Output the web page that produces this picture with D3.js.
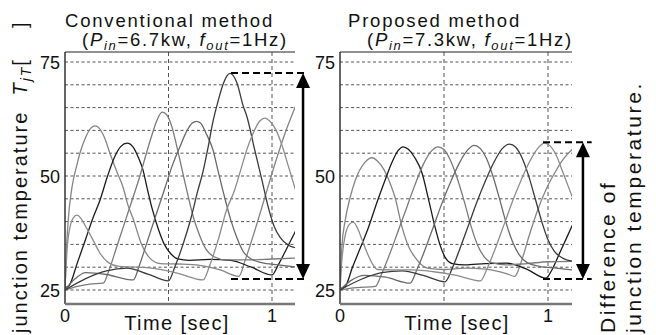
<!DOCTYPE html>
<html><head><meta charset="utf-8">
<script src="https://cdn.jsdelivr.net/npm/d3@7"></script>
<style>
body{margin:0;background:#fff}
svg{display:block}
text{font-family:"Liberation Sans",Arial,sans-serif;fill:#111}
</style></head>
<body><svg id="c" width="656" height="335"></svg>
<script>
// ---------- data (time [sec], junction temperature) ----------
const gridTemps = [25,30,35,40,45,50,55,60,65,70,75];
const gridTimes = [0.5, 1];
const yTickLabels = [25, 50, 75];
const xTickLabels = [0, 1];

// Conventional method (Pin=6.7kw)
const convA = [[0,25],[0.006,33],[0.015,40],[0.034,47.6],[0.055,52],[0.072,55],[0.1,58.5],[0.125,60.5],[0.145,61],[0.165,60.5],[0.19,58.5],[0.217,55],[0.25,51],[0.28,47.6],[0.305,43.5],[0.33,40.5],[0.37,35],[0.41,32],[0.46,30.8],[0.55,30.7],[0.65,30.4],[0.75,29.4],[0.84,28],[0.87,31.5],[0.92,38.5],[0.97,46],[1.02,53.5],[1.06,59],[1.12,66]];
const convB = [[0,25.5],[0.02,26],[0.06,31],[0.1,36.2],[0.135,40.8],[0.169,44.7],[0.203,49.6],[0.24,54.2],[0.27,56.5],[0.30,57.2],[0.33,56.3],[0.355,54],[0.377,51.3],[0.396,47.5],[0.42,43],[0.45,38.5],[0.48,35],[0.51,33],[0.545,31.8],[0.6,31.5],[0.7,31.7],[0.8,31.5],[0.9,30],[1.0,28.3],[1.03,30.5],[1.07,34],[1.12,38.5]];
const convC = [[0,25],[0.06,25.8],[0.12,26.3],[0.185,26.5],[0.21,29],[0.25,34.5],[0.29,40],[0.33,45.5],[0.362,50],[0.39,54.5],[0.42,59],[0.445,62.3],[0.469,64],[0.49,63.5],[0.515,61],[0.54,56.5],[0.565,51.5],[0.59,46.5],[0.62,41],[0.65,37],[0.68,34],[0.72,32.3],[0.78,31.6],[0.9,31.6],[1.0,31.8],[1.12,32]];
const convD = [[0,25],[0.05,27.5],[0.1,28.8],[0.2,28.4],[0.33,27.2],[0.36,30.5],[0.4,36],[0.44,41.5],[0.48,47],[0.52,52.5],[0.556,56.5],[0.59,60],[0.615,61.6],[0.635,62],[0.655,61.6],[0.68,59.5],[0.715,55.7],[0.74,51],[0.77,45.5],[0.8,40.5],[0.83,36.5],[0.86,33.5],[0.9,31.8],[0.95,31],[1.03,30.5],[1.12,30]];
const convE = [[0,25],[0.1,27.5],[0.2,29.2],[0.3,29.8],[0.4,28.5],[0.5,27],[0.53,30],[0.57,35],[0.61,41],[0.64,46.5],[0.667,51],[0.69,56],[0.715,62],[0.74,66.5],[0.765,70.3],[0.797,72.5],[0.83,70.5],[0.86,65.5],[0.879,63],[0.915,56],[0.952,49],[0.98,43.5],[1.01,39],[1.04,36.5],[1.08,34.8],[1.12,34.2]];
const convF = [[0,25],[0.005,30],[0.012,35],[0.025,39],[0.04,40.8],[0.058,41.4],[0.08,40.5],[0.105,38.5],[0.135,36],[0.17,33],[0.21,31],[0.26,30.2],[0.35,30],[0.45,29.6],[0.55,28.6],[0.667,27.2],[0.7,30.5],[0.74,36],[0.78,42.5],[0.82,47],[0.85,51.5],[0.88,56],[0.91,59.5],[0.94,62],[0.966,62.7],[0.99,62],[1.02,60],[1.05,56.5],[1.08,52],[1.12,46]];

// Proposed method (Pin=7.3kw)
const propA = [[0,25],[0.004,30],[0.01,35],[0.024,40],[0.05,45.5],[0.073,49],[0.12,53],[0.154,54],[0.18,53.3],[0.21,51.5],[0.24,48.5],[0.264,45.4],[0.3,38.5],[0.33,34.5],[0.36,32.2],[0.42,29.8],[0.5,29.5],[0.6,29.8],[0.7,29.6],[0.8,28.6],[0.84,28],[0.87,31],[0.91,37],[0.95,42.5],[0.99,47],[1.03,50.5],[1.07,53.5],[1.12,56]];
const propB = [[0,25.3],[0.024,25.7],[0.06,30],[0.1,34.5],[0.135,38.5],[0.18,44.5],[0.216,49],[0.25,53],[0.28,55.6],[0.303,56.4],[0.33,55.8],[0.36,54],[0.394,50.7],[0.425,45],[0.457,38.8],[0.48,35],[0.505,32.2],[0.54,30.8],[0.6,30.5],[0.7,30.8],[0.8,30.9],[0.9,29.5],[0.99,27.6],[1.02,29.5],[1.06,33.5],[1.12,39.5]];
const propC = [[0,25],[0.08,25.5],[0.17,25.8],[0.2,28.5],[0.24,33],[0.28,38],[0.32,43],[0.36,48],[0.4,52.5],[0.44,55.5],[0.47,56.4],[0.5,55.8],[0.53,53.5],[0.56,50],[0.6,44],[0.63,39],[0.66,35],[0.69,32.5],[0.73,31],[0.8,30.5],[0.9,30.8],[1.0,31.2],[1.12,31.3]];
const propD = [[0,25],[0.05,27],[0.12,28.2],[0.22,27.8],[0.337,26.5],[0.37,29.5],[0.41,34],[0.45,39],[0.49,44],[0.53,48.5],[0.57,52.5],[0.61,55.5],[0.645,56.7],[0.675,56],[0.705,53.8],[0.735,50],[0.77,44.5],[0.8,39.5],[0.83,35.5],[0.86,32.8],[0.9,31],[0.96,30.2],[1.04,29.8],[1.12,29.4]];
const propE = [[0,25],[0.1,27.3],[0.2,28.8],[0.3,29.2],[0.4,28.2],[0.505,26.8],[0.54,29.8],[0.58,34.5],[0.62,39.5],[0.66,44.5],[0.7,49],[0.74,53],[0.78,56],[0.815,57],[0.845,56.3],[0.875,54],[0.905,50.3],[0.94,44.8],[0.97,40],[1.0,36],[1.03,33.5],[1.07,32],[1.12,31.3]];
const propF = [[0,25],[0.005,29],[0.012,33],[0.025,37],[0.045,39.4],[0.063,39.9],[0.085,38.5],[0.106,36],[0.13,33.2],[0.154,30.9],[0.18,29.5],[0.25,29.4],[0.35,29.4],[0.45,29],[0.56,28.2],[0.675,27],[0.71,30],[0.75,34.5],[0.79,39.5],[0.83,44.5],[0.87,49],[0.91,53],[0.95,56],[0.983,57.2],[1.01,56.6],[1.04,54.5],[1.07,51],[1.12,45]];

// difference annotation: [t start of dashed, t end of dashed, t of arrow], [low, high]
const convDiffTimes = [0.802, 1.174, 1.15];
const convDiffTemps = [27.4, 72.6];
const propDiffTimes = [0.976, 1.21, 1.168];
const propDiffTemps = [27.4, 57.4];

const seriesColors = ["#858585","#1a1a1a","#7a7a7a","#6a6a6a","#3a3a3a","#8c8c8c"];

// ---------- drawing ----------
const svg = d3.select("#c");
const y = d3.scaleLinear().domain([25,75]).range([290,62]);
const TOP = 52, BOTTOM = 304;

function panel(id, x0, x1, xr, series, diffT, diffV){
  const x = d3.scaleLinear().domain([0,1]).range([x0,x1]);
  const g = svg.append("g");
  g.selectAll(".gh").data(gridTemps).join("line")
    .attr("x1",x0).attr("x2",xr).attr("y1",d=>y(d)).attr("y2",d=>y(d))
    .attr("stroke","#555").attr("stroke-width",1).attr("stroke-dasharray","3,2.5");
  g.selectAll(".gv").data(gridTimes).join("line")
    .attr("x1",d=>x(d)).attr("x2",d=>x(d)).attr("y1",TOP).attr("y2",BOTTOM)
    .attr("stroke","#555").attr("stroke-width",1).attr("stroke-dasharray","4,3");
  svg.append("clipPath").attr("id","clip"+id).append("rect")
    .attr("x",x0).attr("y",TOP).attr("width",xr-x0).attr("height",BOTTOM-TOP);
  const line = d3.line().x(d=>x(d[0])).y(d=>y(d[1])).curve(d3.curveMonotoneX);
  g.append("g").attr("clip-path",`url(#clip${id})`)
    .selectAll("path").data(series).join("path")
    .attr("d",line).attr("fill","none")
    .attr("stroke",(d,i)=>seriesColors[i]).attr("stroke-width",1.3);
  g.append("line").attr("x1",x0).attr("x2",xr).attr("y1",TOP).attr("y2",TOP).attr("stroke","#222").attr("stroke-width",1);
  g.append("line").attr("x1",x0).attr("x2",x0).attr("y1",TOP).attr("y2",BOTTOM).attr("stroke","#333").attr("stroke-width",1.5);
  g.append("line").attr("x1",x0).attr("x2",xr).attr("y1",BOTTOM).attr("y2",BOTTOM).attr("stroke","#777").attr("stroke-width",2.5);
  g.selectAll(".yt").data(yTickLabels).join("text")
    .attr("x",x0-5).attr("y",d=>y(d)+6.5).attr("text-anchor","end")
    .style("font-size","18px").text(d=>d);
  g.selectAll(".xt").data(xTickLabels).join("text")
    .attr("x",d=>x(d)).attr("y",322).attr("text-anchor","middle")
    .style("font-size","18px").text(d=>d);
  const [ta,tb,tc] = diffT;
  diffV.forEach(v=>{
    g.append("line").attr("x1",x(ta)).attr("x2",x(tb)).attr("y1",y(v)).attr("y2",y(v))
      .attr("stroke","#000").attr("stroke-width",2).attr("stroke-dasharray","7,4");
  });
  const ax = x(tc), yt = y(diffV[1]), yb = y(diffV[0]);
  g.append("line").attr("x1",ax).attr("x2",ax).attr("y1",yt+10).attr("y2",yb-10)
    .attr("stroke","#000").attr("stroke-width",2.5);
  g.append("path").attr("d",`M${ax},${yt}L${ax-7},${yt+15}L${ax+7},${yt+15}Z`).attr("fill","#000");
  g.append("path").attr("d",`M${ax},${yb}L${ax-7},${yb-15}L${ax+7},${yb-15}Z`).attr("fill","#000");
  return x;
}

panel("L", 65, 272, 295, [convA,convB,convC,convD,convE,convF], convDiffTimes, convDiffTemps);
panel("R", 340, 548, 572, [propA,propB,propC,propD,propE,propF], propDiffTimes, propDiffTemps);

function title(xt, xs, main, pin){
  svg.append("text").attr("x",xt).attr("y",27).style("font-size","18.5px").style("letter-spacing","1.8px").text(main);
  const t = svg.append("text").attr("x",xs).attr("y",46).style("font-size","18.5px").style("letter-spacing","1.7px");
  t.append("tspan").text("(");
  t.append("tspan").style("font-style","italic").text("P");
  t.append("tspan").style("font-style","italic").style("font-size","13px").attr("dy",4).text("in");
  t.append("tspan").attr("dy",-4).text("="+pin+"kw, ");
  t.append("tspan").style("font-style","italic").text("f");
  t.append("tspan").style("font-style","italic").style("font-size","13px").attr("dy",4).text("out");
  t.append("tspan").attr("dy",-4).text("=1Hz)");
}
title(65, 82, "Conventional method", "6.7");
title(348, 367, "Proposed method", "7.3");

[[177],[457]].forEach(([cx])=>{
  svg.append("text").attr("x",cx).attr("y",330).attr("text-anchor","middle")
    .style("font-size","20px").style("letter-spacing","1.4px").text("Time [sec]");
});

const yl = svg.append("text").attr("transform","translate(27,333) rotate(-90)")
  .style("font-size","20px").style("letter-spacing","2px");
yl.append("tspan").text("junction temperature\u00A0\u00A0");
yl.append("tspan").style("font-style","italic").text("T");
yl.append("tspan").style("font-style","italic").style("font-size","14px").attr("dy",4).text("jT");
yl.append("tspan").attr("dy",-4).text("[\u00A0\u00A0\u00A0\u00A0]");

svg.append("text").attr("transform","translate(615,333) rotate(-90)")
  .style("font-size","21px").style("letter-spacing","2.6px").text("Difference of");
svg.append("text").attr("transform","translate(641,333) rotate(-90)")
  .style("font-size","21px").style("letter-spacing","2.6px").text("junction temperature.");
</script></body></html>
